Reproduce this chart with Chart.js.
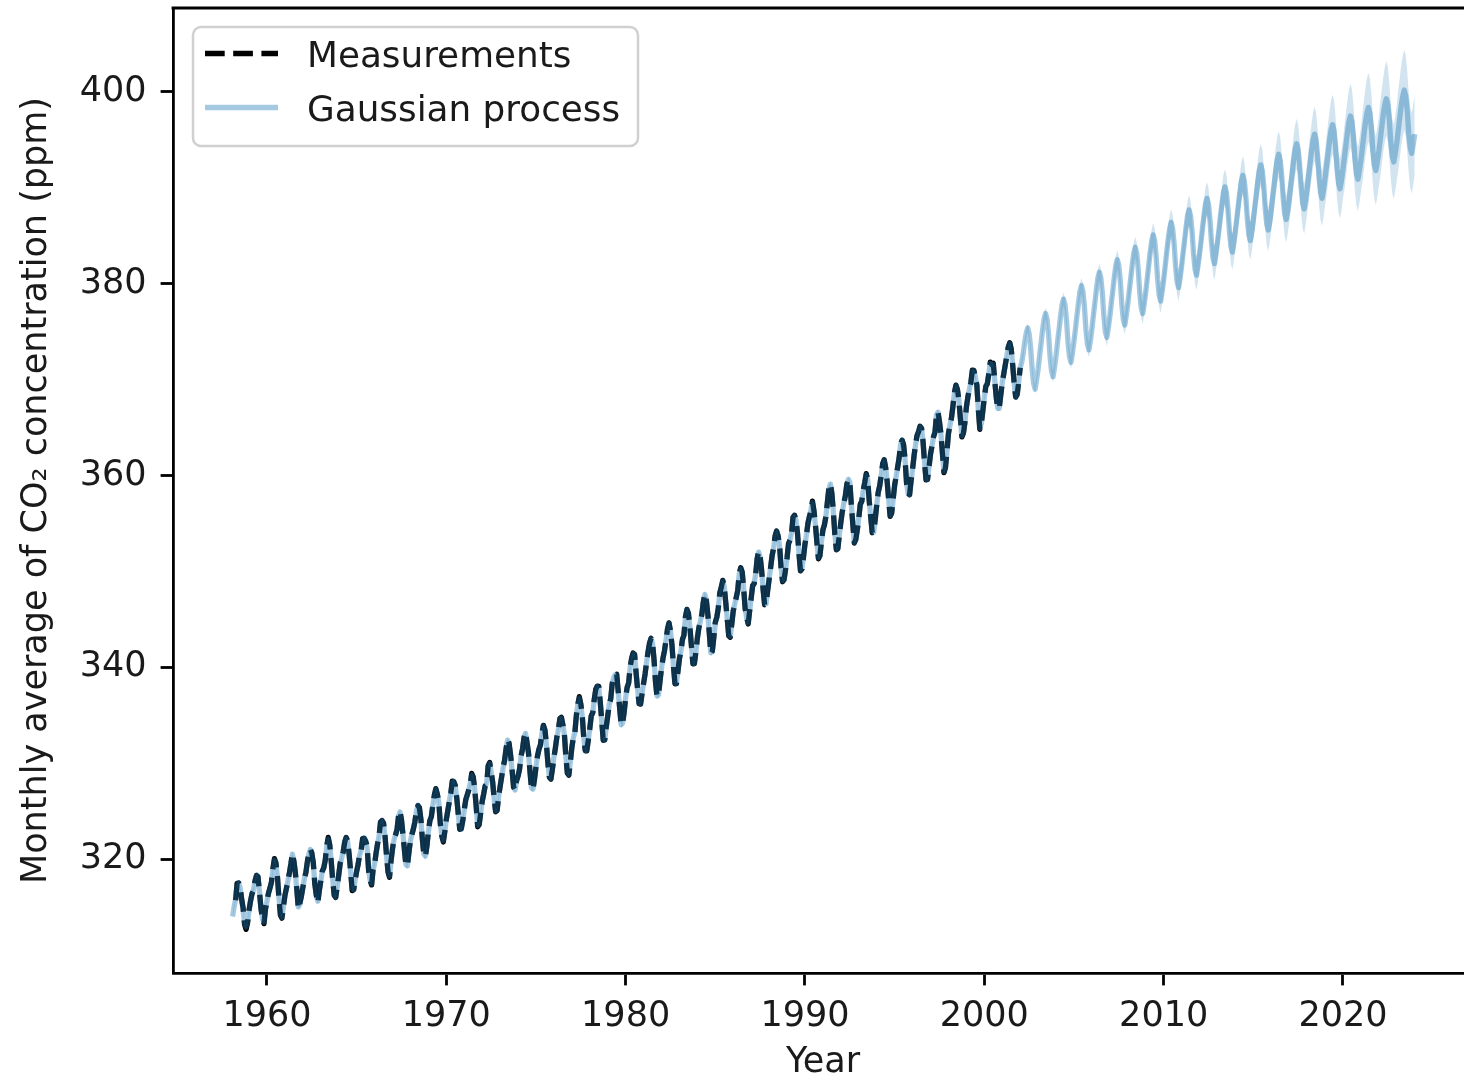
<!DOCTYPE html>
<html>
<head>
<meta charset="utf-8">
<title>Monthly average of CO2 concentration</title>
<script src="https://cdn.jsdelivr.net/npm/chart.js@4.4.1/dist/chart.umd.min.js"></script>
<style>
  html, body { margin: 0; padding: 0; background: #fff; overflow: hidden; }
  canvas { display: block; }
</style>
</head>
<body>
<canvas id="co2Chart" width="1480" height="1081"></canvas>
<script>
// Mauna Loa monthly averages, one row per year, Jan..Dec (ppm)
const measuredYears = [1958, 1959, 1960, 1961, 1962, 1963, 1964, 1965, 1966, 1967, 1968,
  1969, 1970, 1971, 1972, 1973, 1974, 1975, 1976, 1977, 1978, 1979, 1980, 1981, 1982,
  1983, 1984, 1985, 1986, 1987, 1988, 1989, 1990, 1991, 1992, 1993, 1994, 1995, 1996,
  1997, 1998, 1999, 2000, 2001];
const measuredMonthly = [
  [null, null, 315.70, 317.45, 317.51, 317.24, 315.86, 314.93, 313.20, 312.66, 313.33, 314.67],
  [315.62, 316.38, 316.71, 317.72, 318.29, 318.15, 316.54, 314.80, 313.84, 313.26, 314.80, 315.58],
  [316.43, 316.97, 317.58, 319.02, 320.03, 319.59, 318.18, 315.91, 314.16, 313.83, 315.00, 316.19],
  [316.93, 317.70, 318.54, 319.48, 320.58, 319.77, 318.57, 316.79, 314.80, 315.38, 316.10, 317.01],
  [317.94, 318.55, 319.68, 320.57, 321.02, 320.62, 319.61, 317.40, 316.25, 315.42, 316.69, 317.70],
  [318.74, 319.07, 319.86, 321.38, 322.25, 321.48, 319.74, 317.77, 316.21, 315.99, 317.12, 318.31],
  [319.57, 320.07, 320.73, 321.77, 322.25, 321.89, 320.44, 318.70, 316.70, 316.79, 317.79, 318.71],
  [319.44, 320.44, 320.89, 322.13, 322.16, 321.87, 321.39, 318.81, 317.81, 317.30, 318.87, 319.42],
  [320.62, 321.59, 322.39, 323.87, 324.01, 323.75, 322.39, 320.37, 318.64, 318.10, 319.79, 321.08],
  [322.07, 322.50, 323.04, 324.42, 325.00, 324.09, 322.55, 320.92, 319.31, 319.31, 320.72, 321.96],
  [322.57, 323.15, 323.89, 325.02, 325.57, 325.36, 324.14, 322.03, 320.41, 320.25, 321.31, 322.84],
  [324.00, 324.42, 325.64, 326.66, 327.34, 326.76, 325.88, 323.67, 322.38, 321.78, 322.85, 324.12],
  [325.03, 325.99, 326.87, 328.13, 328.07, 327.66, 326.35, 324.69, 323.10, 323.16, 323.98, 325.13],
  [326.17, 326.68, 327.18, 327.78, 328.92, 328.57, 327.34, 325.46, 323.36, 323.57, 324.80, 326.01],
  [326.77, 327.63, 327.75, 329.72, 330.07, 329.09, 328.05, 326.32, 324.93, 325.06, 326.50, 327.55],
  [328.54, 329.56, 330.30, 331.50, 332.48, 332.07, 330.87, 329.31, 327.51, 327.18, 328.16, 328.64],
  [329.35, 330.71, 331.48, 332.65, 333.20, 332.16, 331.07, 329.12, 327.32, 327.28, 328.30, 329.58],
  [330.73, 331.46, 331.90, 333.17, 333.94, 333.45, 331.97, 329.95, 328.50, 328.34, 329.37, 330.58],
  [331.59, 332.75, 333.52, 334.64, 334.77, 334.00, 333.06, 330.68, 328.95, 328.75, 330.15, 331.62],
  [332.66, 333.13, 334.95, 336.13, 336.93, 336.17, 334.88, 332.56, 331.29, 331.27, 332.41, 333.60],
  [334.95, 335.25, 336.66, 337.69, 338.03, 338.01, 336.41, 334.41, 332.37, 332.41, 333.75, 334.90],
  [336.14, 336.69, 338.27, 338.96, 339.21, 339.26, 337.54, 335.75, 333.98, 334.19, 335.31, 336.81],
  [337.90, 338.34, 340.01, 340.93, 341.48, 341.33, 339.40, 337.70, 336.19, 336.15, 337.27, 338.32],
  [339.29, 340.55, 341.61, 342.53, 343.03, 342.54, 340.78, 338.44, 336.95, 337.08, 338.58, 339.88],
  [340.96, 341.73, 342.81, 343.97, 344.63, 343.79, 342.32, 340.09, 338.28, 338.29, 339.60, 340.90],
  [341.68, 342.90, 343.33, 345.25, 346.03, 345.63, 344.19, 342.27, 340.35, 340.38, 341.59, 343.05],
  [344.10, 344.79, 345.52, 346.84, 347.63, 346.98, 345.53, 343.55, 341.40, 341.67, 343.10, 344.70],
  [345.21, 346.16, 347.74, 348.34, 349.06, 348.38, 346.72, 345.02, 343.27, 343.13, 344.49, 345.88],
  [346.56, 347.28, 348.01, 349.77, 350.38, 349.93, 348.16, 346.08, 345.22, 344.51, 345.93, 347.22],
  [348.52, 348.73, 349.73, 351.31, 352.09, 351.53, 350.11, 348.08, 346.52, 346.59, 347.96, 349.16],
  [350.39, 351.64, 352.41, 353.69, 354.21, 353.72, 352.69, 350.40, 348.92, 349.13, 350.20, 351.41],
  [352.91, 353.27, 353.96, 355.64, 355.86, 355.37, 353.99, 351.81, 350.05, 350.25, 351.49, 352.85],
  [353.80, 355.04, 355.73, 356.32, 357.32, 356.34, 354.84, 353.01, 351.31, 351.62, 353.07, 354.33],
  [354.84, 355.73, 357.23, 358.66, 359.13, 358.13, 356.19, 353.85, 352.25, 352.35, 353.81, 355.12],
  [356.25, 357.11, 357.86, 359.09, 359.59, 359.33, 357.01, 354.94, 352.96, 353.32, 354.32, 355.57],
  [357.00, 357.31, 358.47, 359.27, 360.19, 359.52, 357.33, 355.64, 354.03, 354.12, 355.41, 356.91],
  [358.24, 358.92, 359.99, 361.23, 361.65, 360.81, 359.38, 357.46, 355.73, 356.07, 357.53, 358.98],
  [359.92, 360.86, 361.83, 363.30, 363.69, 363.19, 361.64, 359.12, 358.17, 357.99, 359.45, 360.68],
  [362.07, 363.24, 364.17, 364.57, 365.13, 364.92, 363.55, 361.38, 359.54, 359.58, 360.89, 362.24],
  [363.09, 364.03, 364.51, 366.35, 366.64, 365.59, 364.31, 362.25, 360.29, 360.82, 362.49, 364.38],
  [365.26, 365.98, 367.24, 368.66, 369.42, 368.99, 367.82, 365.95, 364.02, 364.40, 365.52, 367.13],
  [368.18, 369.07, 369.68, 370.99, 370.96, 370.30, 369.45, 366.90, 364.81, 365.37, 366.72, 368.10],
  [369.29, 369.55, 370.60, 371.82, 371.58, 371.70, 369.86, 368.13, 367.00, 367.03, 368.37, 369.67],
  [370.59, 371.51, 372.43, 373.37, 373.85, 373.21, 371.51, 369.61, 368.18, 368.45, 369.76, 371.24]
];

// Gaussian process mean, Jan..Dec per year, and its standard deviation per year
const gpYears = [1958, 1959, 1960, 1961, 1962, 1963, 1964, 1965, 1966, 1967, 1968,
  1969, 1970, 1971, 1972, 1973, 1974, 1975, 1976, 1977, 1978, 1979, 1980, 1981, 1982,
  1983, 1984, 1985, 1986, 1987, 1988, 1989, 1990, 1991, 1992, 1993, 1994, 1995, 1996,
  1997, 1998, 1999, 2000, 2001, 2002, 2003, 2004, 2005, 2006, 2007, 2008, 2009, 2010,
  2011, 2012, 2013, 2014, 2015, 2016, 2017, 2018, 2019, 2020, 2021, 2022, 2023];
const gpMean = [
  [314.0, 315.0, 315.8, 317.2, 317.5, 317.0, 315.9, 314.7, 313.3, 312.9, 313.4, 314.6],
  [315.6, 316.4, 316.8, 317.7, 318.3, 318.1, 316.6, 314.8, 313.8, 313.4, 314.7, 315.6],
  [316.4, 317.0, 317.6, 318.9, 319.9, 319.5, 318.1, 316.0, 314.3, 313.9, 315.0, 316.2],
  [316.9, 317.7, 318.5, 319.5, 320.5, 319.8, 318.5, 316.7, 315.0, 315.3, 316.1, 317.0],
  [317.9, 318.6, 319.6, 320.5, 321.0, 320.6, 319.5, 317.5, 316.2, 315.6, 316.7, 317.7],
  [318.7, 319.1, 319.9, 321.3, 322.1, 321.4, 319.8, 317.8, 316.3, 316.0, 317.1, 318.3],
  [319.5, 320.1, 320.8, 321.8, 322.2, 321.8, 320.4, 318.6, 316.9, 316.8, 317.8, 318.7],
  [319.5, 320.4, 320.9, 322.0, 322.2, 321.9, 321.2, 319.0, 317.8, 317.4, 318.8, 319.5],
  [320.6, 321.6, 322.4, 323.8, 324.0, 323.7, 322.3, 320.4, 318.7, 318.2, 319.8, 321.0],
  [322.0, 322.5, 323.1, 324.4, 324.9, 324.1, 322.6, 320.9, 319.4, 319.3, 320.7, 321.9],
  [322.6, 323.2, 323.9, 325.0, 325.6, 325.3, 324.1, 322.0, 320.5, 320.3, 321.4, 322.8],
  [323.9, 324.5, 325.6, 326.6, 327.3, 326.8, 325.8, 323.7, 322.4, 321.9, 322.9, 324.1],
  [325.0, 326.0, 326.9, 328.0, 328.1, 327.6, 326.3, 324.7, 323.2, 323.1, 324.0, 325.1],
  [326.1, 326.7, 327.2, 327.9, 328.8, 328.5, 327.3, 325.4, 323.5, 323.6, 324.8, 326.0],
  [326.8, 327.6, 327.9, 329.6, 330.0, 329.1, 328.0, 326.3, 325.0, 325.1, 326.5, 327.6],
  [328.5, 329.5, 330.3, 331.5, 332.4, 332.0, 330.8, 329.2, 327.6, 327.2, 328.1, 328.7],
  [329.4, 330.7, 331.5, 332.6, 333.1, 332.2, 331.0, 329.1, 327.4, 327.3, 328.3, 329.6],
  [330.7, 331.4, 331.9, 333.1, 333.9, 333.4, 331.9, 330.0, 328.5, 328.4, 329.4, 330.6],
  [331.6, 332.7, 333.5, 334.6, 334.7, 334.0, 333.0, 330.7, 329.0, 328.8, 330.2, 331.6],
  [332.6, 333.2, 334.9, 336.1, 336.8, 336.1, 334.8, 332.6, 331.3, 331.3, 332.4, 333.6],
  [334.9, 335.3, 336.6, 337.6, 338.0, 337.9, 336.4, 334.4, 332.4, 332.4, 333.7, 334.9],
  [336.1, 336.7, 338.2, 338.9, 339.2, 339.2, 337.5, 335.7, 334.0, 334.2, 335.3, 336.8],
  [337.9, 338.4, 339.9, 340.9, 341.4, 341.3, 339.4, 337.7, 336.2, 336.2, 337.3, 338.3],
  [339.3, 340.5, 341.6, 342.5, 343.0, 342.5, 340.8, 338.5, 337.0, 337.1, 338.6, 339.9],
  [340.9, 341.7, 342.8, 343.9, 344.6, 343.8, 342.3, 340.1, 338.3, 338.3, 339.6, 340.9],
  [341.7, 342.8, 343.4, 345.2, 346.0, 345.6, 344.2, 342.3, 340.4, 340.4, 341.6, 343.0],
  [344.1, 344.8, 345.5, 346.8, 347.6, 347.0, 345.5, 343.5, 341.5, 341.7, 343.1, 344.6],
  [345.2, 346.2, 347.7, 348.3, 349.0, 348.4, 346.7, 345.0, 343.3, 343.2, 344.5, 345.9],
  [346.6, 347.3, 348.0, 349.7, 350.3, 349.9, 348.2, 346.1, 345.1, 344.6, 345.9, 347.2],
  [348.5, 348.8, 349.7, 351.3, 352.0, 351.5, 350.1, 348.1, 346.6, 346.6, 348.0, 349.2],
  [350.4, 351.6, 352.4, 353.6, 354.2, 353.7, 352.6, 350.4, 349.0, 349.1, 350.2, 351.4],
  [352.8, 353.3, 354.0, 355.6, 355.8, 355.3, 354.0, 351.8, 350.1, 350.3, 351.5, 352.8],
  [353.8, 355.0, 355.7, 356.4, 357.2, 356.3, 354.8, 353.0, 351.4, 351.6, 353.1, 354.3],
  [354.9, 355.7, 357.2, 358.6, 359.1, 358.1, 356.2, 353.9, 352.3, 352.4, 353.8, 355.1],
  [356.2, 357.1, 357.9, 359.0, 359.6, 359.3, 357.0, 355.0, 353.0, 353.3, 354.3, 355.6],
  [356.9, 357.3, 358.4, 359.3, 360.1, 359.5, 357.4, 355.6, 354.1, 354.1, 355.4, 356.9],
  [358.2, 358.9, 360.0, 361.2, 361.6, 360.8, 359.4, 357.5, 355.8, 356.1, 357.5, 358.9],
  [359.9, 360.8, 361.8, 363.2, 363.7, 363.1, 361.6, 359.2, 358.1, 358.0, 359.4, 360.7],
  [362.0, 363.2, 364.1, 364.6, 365.1, 364.9, 363.5, 361.4, 359.6, 359.6, 360.9, 362.2],
  [363.1, 364.0, 364.6, 366.3, 366.6, 365.6, 364.3, 362.2, 360.4, 360.8, 362.5, 364.3],
  [365.2, 366.0, 367.2, 368.6, 369.4, 369.0, 367.8, 365.9, 364.1, 364.4, 365.5, 367.1],
  [368.1, 369.0, 369.7, 370.9, 370.9, 370.3, 369.4, 366.9, 364.9, 365.4, 366.7, 368.1],
  [369.3, 369.6, 370.6, 371.7, 371.6, 371.6, 369.9, 368.1, 367.0, 367.0, 368.4, 369.7],
  [370.6, 371.5, 372.4, 373.3, 373.8, 373.2, 371.5, 369.6, 368.2, 368.4, 369.7, 371.2],
  [371.8, 372.7, 373.9, 374.8, 375.4, 374.8, 373.3, 371.1, 369.6, 369.0, 370.0, 371.1],
  [372.5, 373.8, 375.2, 376.3, 376.9, 376.3, 374.7, 372.4, 370.9, 370.3, 371.3, 372.5],
  [373.9, 375.2, 376.6, 377.8, 378.4, 377.8, 376.2, 373.9, 372.4, 371.8, 372.8, 374.0],
  [375.3, 376.7, 378.0, 379.2, 379.8, 379.2, 377.6, 375.2, 373.7, 373.1, 374.1, 375.3],
  [376.7, 378.0, 379.4, 380.6, 381.2, 380.6, 379.0, 376.6, 375.0, 374.4, 375.4, 376.6],
  [378.0, 379.3, 380.7, 381.9, 382.5, 381.9, 380.3, 377.9, 376.3, 375.7, 376.7, 377.9],
  [379.3, 380.6, 382.0, 383.2, 383.8, 383.2, 381.5, 379.1, 377.5, 376.9, 377.9, 379.1],
  [380.5, 381.9, 383.3, 384.4, 385.1, 384.5, 382.8, 380.4, 378.8, 378.2, 379.2, 380.4],
  [381.8, 383.2, 384.6, 385.7, 386.4, 385.8, 384.2, 381.8, 380.2, 379.6, 380.6, 381.8],
  [383.2, 384.5, 385.9, 387.1, 387.7, 387.1, 385.5, 383.1, 381.5, 380.9, 381.9, 383.1],
  [384.4, 385.8, 387.1, 388.3, 388.9, 388.3, 386.7, 384.3, 382.7, 382.1, 383.1, 384.3],
  [385.6, 387.0, 388.3, 389.5, 390.1, 389.5, 387.9, 385.5, 383.9, 383.3, 384.3, 385.5],
  [386.8, 388.2, 389.5, 390.7, 391.3, 390.7, 389.1, 386.7, 385.1, 384.5, 385.4, 386.6],
  [388.0, 389.3, 390.7, 391.8, 392.4, 391.8, 390.2, 387.8, 386.2, 385.6, 386.5, 387.7],
  [389.1, 390.4, 391.8, 392.9, 393.5, 392.9, 391.3, 388.9, 387.3, 386.7, 387.6, 388.8],
  [390.2, 391.5, 392.9, 394.0, 394.6, 394.0, 392.4, 390.0, 388.4, 387.8, 388.7, 389.9],
  [391.2, 392.6, 393.9, 395.0, 395.6, 395.0, 393.4, 391.0, 389.5, 388.9, 389.8, 391.0],
  [392.3, 393.6, 394.9, 396.0, 396.6, 396.0, 394.4, 392.0, 390.5, 389.9, 390.8, 392.0],
  [393.2, 394.5, 395.8, 396.9, 397.5, 396.9, 395.3, 393.0, 391.5, 390.9, 391.8, 392.9],
  [394.2, 395.5, 396.8, 397.8, 398.4, 397.8, 396.2, 393.9, 392.4, 391.8, 392.7, 393.8],
  [395.1, 396.4, 397.7, 398.7, 399.3, 398.7, 397.1, 394.8, 393.3, 392.7, 393.6, 394.7],
  [396.0, 397.3, 398.6, 399.6, 400.2, 399.6, 398.0, 395.7, 394.2, 393.6, 394.5, 395.6]
];
const gpStd = [0.3, 0.3, 0.3, 0.3, 0.3, 0.3, 0.3, 0.3, 0.3, 0.3, 0.3,
  0.3, 0.3, 0.3, 0.3, 0.3, 0.3, 0.3, 0.3, 0.3, 0.3, 0.3, 0.3, 0.3, 0.3,
  0.3, 0.3, 0.3, 0.3, 0.3, 0.3, 0.3, 0.3, 0.3, 0.3, 0.3, 0.3, 0.3, 0.3,
  0.3, 0.3, 0.3, 0.3, 0.3, 0.45, 0.6, 0.7, 0.8, 0.9, 1.0, 1.1, 1.25, 1.4,
  1.55, 1.7, 1.85, 2.0, 2.2, 2.4, 2.6, 2.85, 3.1, 3.35, 3.6, 3.9, 4.2];

const xTicks = [1960, 1970, 1980, 1990, 2000, 2010, 2020];
const yTicks = [320, 340, 360, 380, 400];

// month m of year y sits at y + (m + 1) / 12, as in the source data
const measuredPoints = [];
measuredYears.forEach((year, i) => {
  measuredMonthly[i].forEach((v, m) => {
    if (v !== null) measuredPoints.push({x: year + (m + 1) / 12, y: v});
  });
});

const gpPoints = [], gpUpper = [], gpLower = [];
gpYears.forEach((year, i) => {
  gpMean[i].forEach((v, m) => {
    const x = year + (m + 1) / 12;
    gpPoints.push({x: x, y: v});
    gpUpper.push({x: x, y: v + gpStd[i]});
    gpLower.push({x: x, y: v - gpStd[i]});
  });
});

const FONT = 'DejaVu Sans';
const TEXT = '#1a1a1a';
const LW = 5.3;
const SPINE = 2.8;

// top and right spines
const framePlugin = {
  id: 'frame',
  afterDraw(chart) {
    const {ctx, chartArea: a} = chart;
    ctx.save();
    ctx.strokeStyle = '#000';
    ctx.lineWidth = SPINE;
    ctx.beginPath();
    ctx.moveTo(a.left - SPINE / 2, a.top);
    ctx.lineTo(a.right, a.top);
    ctx.lineTo(a.right, a.bottom);
    ctx.stroke();
    ctx.restore();
  }
};

// legend box in the upper left of the plot
const legendPlugin = {
  id: 'legendBox',
  afterDraw(chart) {
    const ctx = chart.ctx;
    const names = ['Measurements', 'Gaussian process'];
    const boxX = 193, boxY = 27, boxW = 445, boxH = 119;
    ctx.save();
    ctx.beginPath();
    ctx.roundRect(boxX, boxY, boxW, boxH, 8);
    ctx.fillStyle = 'rgba(255,255,255,0.8)';
    ctx.fill();
    ctx.strokeStyle = '#d0d0d0';
    ctx.lineWidth = 2.5;
    ctx.stroke();

    names.forEach((name, i) => {
      const ds = chart.data.datasets.find(d => d.label === name);
      const baseline = 67 + i * 54;
      const lineY = baseline - 13.5;
      ctx.beginPath();
      ctx.setLineDash(ds.borderDash || []);
      ctx.lineCap = 'butt';
      ctx.strokeStyle = ds.borderColor;
      ctx.lineWidth = ds.borderWidth;
      ctx.moveTo(205, lineY);
      ctx.lineTo(278, lineY);
      ctx.stroke();
      ctx.setLineDash([]);
      ctx.fillStyle = TEXT;
      ctx.font = '35.8px "' + FONT + '"';
      ctx.textBaseline = 'alphabetic';
      ctx.textAlign = 'left';
      ctx.fillText(name, 307, baseline);
    });
    ctx.restore();
  }
};

new Chart(document.getElementById('co2Chart'), {
  type: 'line',
  data: {
    datasets: [
      {
        label: 'Gaussian process',
        data: gpPoints,
        borderColor: 'rgba(31,119,180,0.4)',
        borderWidth: LW,
        borderJoinStyle: 'round',
        pointRadius: 0,
        fill: false,
        order: 1
      },
      {
        label: 'Measurements',
        data: measuredPoints,
        borderColor: '#000000',
        borderWidth: LW,
        borderDash: [19.7, 8.5],
        borderCapStyle: 'butt',
        borderJoinStyle: 'round',
        pointRadius: 0,
        fill: false,
        order: 2
      },
      {
        label: 'std upper',
        data: gpUpper,
        borderColor: 'rgba(0,0,0,0)',
        borderWidth: 0,
        pointRadius: 0,
        backgroundColor: 'rgba(31,119,180,0.2)',
        fill: '+1',
        order: 0
      },
      {
        label: 'std lower',
        data: gpLower,
        borderColor: 'rgba(0,0,0,0)',
        borderWidth: 0,
        pointRadius: 0,
        fill: false,
        order: 0
      }
    ]
  },
  options: {
    responsive: false,
    animation: false,
    parsing: false,
    normalized: true,
    events: [],
    layout: { padding: { left: 0, right: 7, top: 8, bottom: 0 } },
    plugins: {
      legend: { display: false },
      tooltip: { enabled: false }
    },
    scales: {
      x: {
        type: 'linear',
        min: 1954.76,
        max: 2027.25,
        afterFit(scale) {
          scale.height = 108;
          scale.paddingLeft = 0;
          scale.paddingRight = 0;
        },
        afterBuildTicks(scale) { scale.ticks = xTicks.map(v => ({value: v})); },
        border: { display: true, color: '#000', width: SPINE },
        grid: { drawOnChartArea: false, drawTicks: true, tickLength: 12.4, tickWidth: SPINE, tickColor: '#000' },
        ticks: {
          autoSkip: false,
          maxRotation: 0,
          padding: 11,
          color: TEXT,
          font: { family: FONT, size: 35 },
          callback: v => String(v)
        },
        title: {
          display: true,
          text: 'Year',
          color: TEXT,
          font: { family: FONT, size: 35, lineHeight: 1 },
          padding: { top: 0, bottom: 0.5 }
        }
      },
      y: {
        type: 'linear',
        min: 308.11,
        max: 408.76,
        afterFit(scale) {
          scale.width = 173;
          scale.paddingTop = 0;
          scale.paddingBottom = 0;
        },
        afterBuildTicks(scale) { scale.ticks = yTicks.map(v => ({value: v})); },
        border: { display: true, color: '#000', width: SPINE },
        grid: { drawOnChartArea: false, drawTicks: true, tickLength: 12.4, tickWidth: SPINE, tickColor: '#000' },
        ticks: {
          padding: 14,
          color: TEXT,
          font: { family: FONT, size: 35 },
          callback: v => String(v)
        },
        title: {
          display: true,
          text: 'Monthly average of CO₂ concentration (ppm)',
          color: TEXT,
          font: { family: FONT, size: 35, lineHeight: 1 },
          padding: { top: 19, bottom: 0 }
        }
      }
    }
  },
  plugins: [framePlugin, legendPlugin]
});
</script>
</body>
</html>
